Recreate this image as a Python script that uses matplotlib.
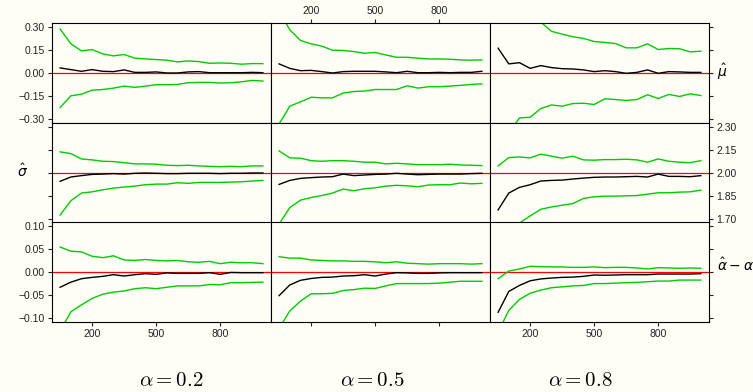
import numpy as np
import matplotlib
matplotlib.use('Agg')
from matplotlib import pyplot as plt
from matplotlib import ticker

# sample sizes
n = [50, 100, 150, 200, 250, 300, 350, 400, 450, 500,
     550, 600, 650, 700, 750, 800, 850, 900, 950, 1000]

alphas = ['0.2', '0.5', '0.8']

# mu-hat: mean, lower and upper bands
mu_mid_02 = [0.033, 0.022, 0.011, 0.022, 0.011, 0.009, 0.02, 0.004, 0.004, 0.007,
             0.0, 0.0, 0.007, 0.009, 0.002, 0.002, 0.002, 0.002, 0.004, 0.002]
mu_lo_02 = [-0.224, -0.148, -0.137, -0.111, -0.107, -0.098, -0.085, -0.093, -0.085, -0.076,
            -0.076, -0.074, -0.063, -0.061, -0.061, -0.065, -0.063, -0.057, -0.048, -0.052]
mu_hi_02 = [0.285, 0.19, 0.143, 0.152, 0.124, 0.111, 0.12, 0.096, 0.091, 0.087,
            0.083, 0.072, 0.078, 0.074, 0.063, 0.065, 0.063, 0.057, 0.061, 0.061]

mu_mid_05 = [0.059, 0.03, 0.015, 0.017, 0.009, 0.0, 0.009, 0.011, 0.011, 0.011,
             0.007, 0.002, 0.011, 0.002, 0.002, 0.004, 0.002, 0.004, 0.004, 0.011]
mu_lo_05 = [-0.33, -0.215, -0.187, -0.157, -0.161, -0.161, -0.13, -0.12, -0.117, -0.107,
            -0.107, -0.107, -0.083, -0.098, -0.089, -0.089, -0.085, -0.08, -0.074, -0.07]
mu_hi_05 = [0.40, 0.28, 0.211, 0.189, 0.174, 0.148, 0.146, 0.139, 0.128, 0.133,
            0.117, 0.102, 0.102, 0.096, 0.091, 0.091, 0.089, 0.085, 0.083, 0.085]

mu_mid_08 = [0.161, 0.059, 0.067, 0.03, 0.048, 0.035, 0.028, 0.026, 0.02, 0.009,
             0.015, 0.009, -0.002, 0.004, 0.02, -0.002, 0.009, 0.007, 0.004, 0.004]
mu_lo_08 = [-0.50, -0.39, -0.291, -0.287, -0.23, -0.207, -0.215, -0.198, -0.196, -0.204,
            -0.167, -0.172, -0.178, -0.172, -0.141, -0.165, -0.139, -0.152, -0.135, -0.146]
mu_hi_08 = [0.60, 0.50, 0.45, 0.378, 0.33, 0.27, 0.252, 0.235, 0.224, 0.204,
            0.198, 0.191, 0.163, 0.163, 0.189, 0.152, 0.159, 0.157, 0.137, 0.141]

# sigma-hat
sg_mid_02 = [1.946, 1.974, 1.983, 1.991, 1.993, 1.996, 1.993, 1.998, 2.0, 1.998,
             1.996, 1.996, 1.998, 1.998, 1.998, 1.996, 1.998, 1.998, 2.0, 2.0]
sg_lo_02 = [1.728, 1.82, 1.87, 1.878, 1.891, 1.902, 1.909, 1.915, 1.924, 1.928,
            1.928, 1.937, 1.933, 1.939, 1.939, 1.939, 1.941, 1.943, 1.948, 1.952]
sg_hi_02 = [2.137, 2.126, 2.091, 2.085, 2.076, 2.074, 2.067, 2.059, 2.059, 2.057,
            2.05, 2.048, 2.05, 2.046, 2.043, 2.041, 2.043, 2.041, 2.046, 2.046]

sg_mid_05 = [1.926, 1.952, 1.965, 1.97, 1.974, 1.976, 1.993, 1.983, 1.987, 1.991,
             1.993, 1.998, 1.993, 1.989, 1.991, 1.993, 1.993, 1.993, 1.996, 1.998]
sg_lo_05 = [1.67, 1.776, 1.824, 1.841, 1.854, 1.87, 1.896, 1.885, 1.898, 1.904,
            1.915, 1.92, 1.917, 1.911, 1.922, 1.924, 1.924, 1.935, 1.93, 1.933]
sg_hi_05 = [2.143, 2.098, 2.096, 2.08, 2.076, 2.08, 2.08, 2.076, 2.07, 2.07,
            2.059, 2.063, 2.059, 2.054, 2.054, 2.054, 2.057, 2.052, 2.05, 2.048]

sg_mid_08 = [1.761, 1.87, 1.907, 1.924, 1.948, 1.952, 1.954, 1.961, 1.967, 1.972,
             1.974, 1.974, 1.976, 1.978, 1.974, 1.993, 1.978, 1.978, 1.976, 1.983]
sg_lo_08 = [1.55, 1.63, 1.676, 1.722, 1.765, 1.78, 1.791, 1.802, 1.835, 1.846,
            1.85, 1.85, 1.852, 1.854, 1.863, 1.872, 1.872, 1.876, 1.878, 1.889]
sg_hi_08 = [2.046, 2.1, 2.104, 2.098, 2.122, 2.109, 2.096, 2.109, 2.085, 2.083,
            2.087, 2.087, 2.089, 2.085, 2.07, 2.091, 2.076, 2.07, 2.067, 2.08]

# alpha-hat - alpha
al_mid_02 = [-0.033, -0.022, -0.0145, -0.0116, -0.0094, -0.0058, -0.0087, -0.0058, -0.0036, -0.005,
             -0.002, -0.003, -0.003, -0.003, -0.0015, -0.005, -0.001, -0.0015, -0.0015, -0.0015]
al_lo_02 = [-0.128, -0.086, -0.071, -0.057, -0.048, -0.0435, -0.041, -0.036, -0.034, -0.036,
            -0.033, -0.03, -0.03, -0.03, -0.027, -0.0275, -0.023, -0.023, -0.0225, -0.022]
al_hi_02 = [0.054, 0.045, 0.0435, 0.034, 0.031, 0.035, 0.026, 0.025, 0.027, 0.025,
            0.024, 0.025, 0.022, 0.021, 0.023, 0.018, 0.021, 0.02, 0.02, 0.018]

al_mid_05 = [-0.051, -0.028, -0.018, -0.014, -0.0116, -0.011, -0.0087, -0.008, -0.0058, -0.0087,
             -0.0044, -0.0015, -0.002, -0.003, -0.003, -0.002, -0.0015, -0.0015, -0.0015, -0.0015]
al_lo_05 = [-0.122, -0.084, -0.063, -0.047, -0.047, -0.046, -0.04, -0.038, -0.035, -0.0355,
            -0.03, -0.025, -0.025, -0.025, -0.025, -0.024, -0.022, -0.02, -0.02, -0.02]
al_hi_05 = [0.033, 0.03, 0.03, 0.026, 0.025, 0.024, 0.024, 0.023, 0.023, 0.022,
            0.02, 0.022, 0.019, 0.018, 0.017, 0.018, 0.018, 0.018, 0.017, 0.018]

al_mid_08 = [-0.087, -0.042, -0.029, -0.019, -0.015, -0.013, -0.0116, -0.011, -0.0094, -0.0065,
             -0.007, -0.0065, -0.0058, -0.0058, -0.0058, -0.0044, -0.0044, -0.0044, -0.0044, -0.0036]
al_lo_08 = [-0.13, -0.083, -0.059, -0.046, -0.039, -0.034, -0.032, -0.03, -0.029, -0.025,
            -0.025, -0.024, -0.023, -0.0225, -0.021, -0.0196, -0.0196, -0.0174, -0.0174, -0.0174]
al_hi_08 = [-0.0145, 0.002, 0.0065, 0.0123, 0.0116, 0.011, 0.011, 0.01, 0.01, 0.011,
            0.0094, 0.01, 0.01, 0.0087, 0.0065, 0.0094, 0.0087, 0.008, 0.0087, 0.008]

rows = [
    [(mu_lo_02, mu_mid_02, mu_hi_02), (mu_lo_05, mu_mid_05, mu_hi_05), (mu_lo_08, mu_mid_08, mu_hi_08)],
    [(sg_lo_02, sg_mid_02, sg_hi_02), (sg_lo_05, sg_mid_05, sg_hi_05), (sg_lo_08, sg_mid_08, sg_hi_08)],
    [(al_lo_02, al_mid_02, al_hi_02), (al_lo_05, al_mid_05, al_hi_05), (al_lo_08, al_mid_08, al_hi_08)],
]
ref = [0.0, 2.0, 0.0]
ylims = [(-0.324, 0.324), (1.676, 2.324), (-0.108, 0.108)]
yticks = [[-0.30, -0.15, 0.0, 0.15, 0.30],
          [1.70, 1.85, 2.00, 2.15, 2.30],
          [-0.10, -0.05, 0.0, 0.05, 0.10]]
xticks = [200, 500, 800]

bg = '#fefef6'
green = '#00cd00'
tcol = '#222222'
plt.rcParams['font.family'] = ['Liberation Sans', 'DejaVu Sans']

W, H = 753, 392
fig = plt.figure(figsize=(W / 100, H / 100), dpi=100, facecolor=bg)

col_x = [52, 271, 490]
row_y = [23, 123, 222]
cw, rh = 219, 100


def fmt(v, pos):
    return ('%.2f' % v).replace('-', '\u2212')


for r in range(3):
    for c in range(3):
        ax = fig.add_axes([col_x[c] / W, 1 - (row_y[r] + rh) / H, cw / W, rh / H])
        ax.set_facecolor(bg)
        lo, mid, hi = rows[r][c]
        ax.axhline(ref[r], color='red', lw=0.9)
        ax.plot(n, hi, color=green, lw=1.0)
        ax.plot(n, lo, color=green, lw=1.0)
        ax.plot(n, mid, color='black', lw=1.0)
        ax.set_xlim(12, 1038)
        ax.set_ylim(*ylims[r])
        ax.set_xticks(xticks)
        ax.set_yticks(yticks[r])
        ax.yaxis.set_major_formatter(ticker.FuncFormatter(fmt))
        for s in ax.spines.values():
            s.set_linewidth(0.8)
        ax.tick_params(direction='out', length=3, width=0.8, colors=tcol,
                       labelsize=7.5, pad=2,
                       left=False, right=False, top=False, bottom=False,
                       labelleft=False, labelright=False,
                       labeltop=False, labelbottom=False)
        if c == 0:
            ax.tick_params(axis='y', left=True, labelleft=(r != 1))
        if c == 2:
            ax.tick_params(axis='y', right=True, labelright=(r == 1))
        if r == 0 and c == 1:
            ax.tick_params(axis='x', top=True, labeltop=True)
        if r == 2:
            ax.tick_params(axis='x', bottom=True, labelbottom=(c != 1))

# row labels
fig.text(722 / W, 1 - 72 / H, r'$\hat{\mu}$', fontsize=10, fontweight='bold',
         ha='center', va='center', math_fontfamily='dejavusans')
fig.text(23 / W, 1 - 171 / H, r'$\hat{\sigma}$', fontsize=10, fontweight='bold',
         ha='center', va='center', math_fontfamily='dejavusans')
fig.text(717 / W, 1 - 265 / H, r'$\hat{\alpha}-\alpha$', fontsize=10, fontweight='bold',
         ha='left', va='center', math_fontfamily='dejavusans')

# column labels
lab_x = [171, 372, 580]
for c in range(3):
    fig.text(lab_x[c] / W, 1 - 386 / H, r'$\alpha = %s$' % alphas[c], fontsize=15,
             ha='center', va='baseline', math_fontfamily='cm')

fig.savefig('out.png', dpi=100, facecolor=bg)
